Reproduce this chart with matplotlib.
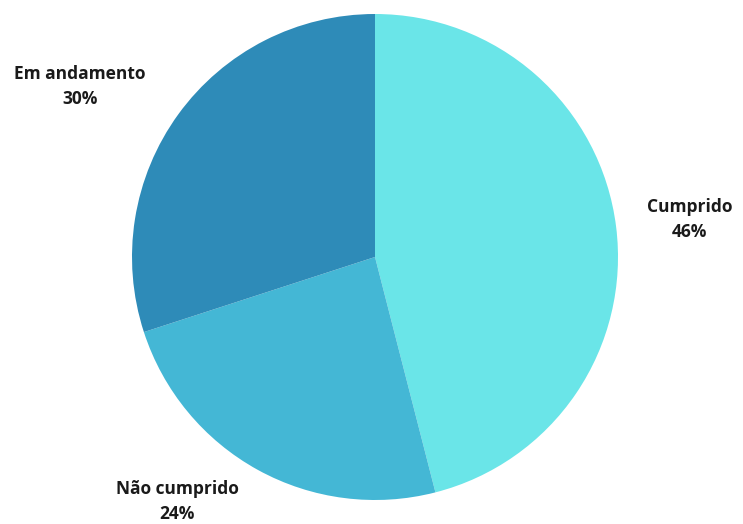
import matplotlib.pyplot as plt

categories = ["Cumprido", "Não cumprido", "Em andamento"]
values = [46, 24, 30]
colors = ["#6AE5E8", "#44B7D5", "#2E8BB8"]

# label anchor points, in pie-radius units
label_pos = [(1.296, 0.155), (-0.815, -1.005), (-1.214, 0.70)]

fig = plt.figure(figsize=(7.43, 5.24), dpi=100)
W, H = 743, 524
cx, cy, r = 375, 257, 243
ax = fig.add_axes([(cx - r) / W, (H - cy - r) / H, 2 * r / W, 2 * r / H])

ax.pie(values, colors=colors, startangle=90, counterclock=False,
       radius=1, wedgeprops=dict(linewidth=0))
ax.set_xlim(-1, 1)
ax.set_ylim(-1, 1)
ax.set_aspect("equal")
ax.axis("off")

for name, v, (x, y) in zip(categories, values, label_pos):
    ax.text(x, y, f"{name}\n{v}%", ha="center", va="center",
            fontsize=12.5, fontweight="bold", family="Open Sans",
            color="#1a1a1a", linespacing=1.5, clip_on=False)

fig.savefig("out.png", dpi=100)
